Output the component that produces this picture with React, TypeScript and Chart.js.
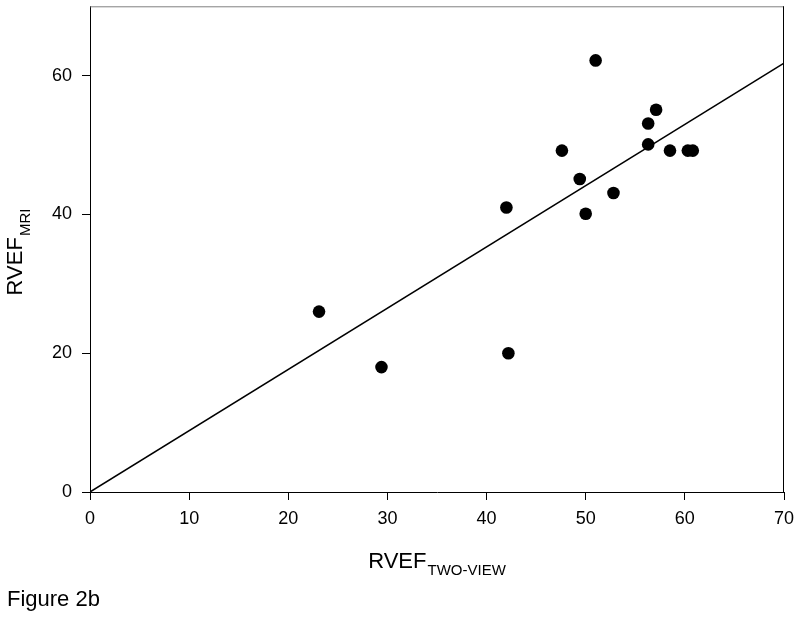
import React, { useEffect, useRef } from 'react';
import { Chart, registerables } from 'chart.js';

Chart.register(...registerables);

// Scatter data (RVEF two-view vs RVEF MRI)
const xValues = [23.1, 29.4, 42.2, 42.0, 47.6, 49.4, 50.0, 51.0, 52.8, 56.3, 56.3, 57.1, 58.5, 60.3, 60.8];
const yValues = [26.0, 18.0, 20.0, 41.0, 49.2, 45.1, 40.1, 62.2, 43.1, 53.1, 50.1, 55.1, 49.2, 49.2, 49.2];

// Regression line endpoints
const fitX = [0, 70];
const fitY = [0, 61.8];

const xMin = 0;
const xMax = 70;
const xStep = 10;
const yMin = 0;
const yMax = 70;
const yStep = 20;

const FONT = '"Liberation Sans", Arial, Helvetica, sans-serif';

function drawSubTitle(
  ctx: CanvasRenderingContext2D,
  cx: number,
  baseY: number,
  main: string,
  sub: string,
  mainSize: number,
  subSize: number,
  drop: number
) {
  ctx.font = `${mainSize}px ${FONT}`;
  const w1 = ctx.measureText(main).width;
  ctx.font = `${subSize}px ${FONT}`;
  const w2 = ctx.measureText(sub).width;
  const gap = 1;
  const start = cx - (w1 + gap + w2) / 2;
  ctx.textAlign = 'left';
  ctx.textBaseline = 'alphabetic';
  ctx.font = `${mainSize}px ${FONT}`;
  ctx.fillText(main, start, baseY);
  ctx.font = `${subSize}px ${FONT}`;
  ctx.fillText(sub, start + w1 + gap, baseY + drop);
}

const decorPlugin = {
  id: 'decor',
  afterDraw(chart: any) {
    const ctx: CanvasRenderingContext2D = chart.ctx;
    const a = chart.chartArea;
    ctx.save();
    // frame top (grey) and right (black)
    ctx.lineWidth = 1;
    ctx.strokeStyle = '#808080';
    ctx.beginPath();
    ctx.moveTo(a.left, a.top + 0.5);
    ctx.lineTo(a.right, a.top + 0.5);
    ctx.stroke();
    ctx.strokeStyle = '#000000';
    ctx.beginPath();
    ctx.moveTo(a.right - 0.5, a.top);
    ctx.lineTo(a.right - 0.5, a.bottom);
    ctx.stroke();

    ctx.fillStyle = '#000000';
    // x title
    drawSubTitle(ctx, (a.left + a.right) / 2, 568, 'RVEF', 'TWO-VIEW', 22, 15, 7);
    // y title
    ctx.save();
    ctx.translate(22, 252);
    ctx.rotate(-Math.PI / 2);
    drawSubTitle(ctx, 0, 0, 'RVEF', 'MRI', 22, 15, 8);
    ctx.restore();
    // figure caption
    ctx.font = `22px ${FONT}`;
    ctx.textAlign = 'left';
    ctx.textBaseline = 'alphabetic';
    ctx.fillText('Figure 2b', 7, 606);
    ctx.restore();
  },
};

export default function App() {
  const canvasRef = useRef<HTMLCanvasElement | null>(null);

  useEffect(() => {
    document.body.style.margin = '0';
    const canvas = canvasRef.current;
    if (!canvas) return;
    const points = xValues.map((x, i) => ({ x, y: yValues[i] }));
    const fit = fitX.map((x, i) => ({ x, y: fitY[i] }));

    const chart = new Chart(canvas, {
      type: 'scatter',
      data: {
        datasets: [
          {
            label: 'data',
            data: points,
            backgroundColor: '#000000',
            borderColor: '#000000',
            pointRadius: 6.3,
            pointHoverRadius: 6.3,
            borderWidth: 0,
          },
          {
            type: 'line',
            label: 'fit',
            data: fit,
            showLine: true,
            borderColor: '#000000',
            borderWidth: 1.5,
            pointRadius: 0,
            fill: false,
          } as any,
        ],
      },
      options: {
        responsive: false,
        animation: false,
        devicePixelRatio: 1,
        layout: { padding: { top: 6, right: 16, left: 0, bottom: 0 } },
        plugins: {
          legend: { display: false },
          tooltip: { enabled: false },
        },
        scales: {
          x: {
            type: 'linear',
            min: xMin,
            max: xMax,
            afterFit: (s: any) => {
              s.height = 126;
              s.paddingLeft = 0;
              s.paddingRight = 0;
            },
            ticks: {
              stepSize: xStep,
              includeBounds: false,
              color: '#000000',
              font: { family: FONT, size: 18 },
              padding: 8,
              maxRotation: 0,
            },
            grid: {
              display: true,
              drawOnChartArea: false,
              drawTicks: true,
              tickLength: 8,
              color: '#000000',
            },
            border: { display: true, color: '#000000', width: 1 },
          },
          y: {
            type: 'linear',
            min: yMin,
            max: yMax,
            afterFit: (s: any) => {
              s.width = 90;
              s.paddingTop = 0;
              s.paddingBottom = 0;
            },
            ticks: {
              stepSize: yStep,
              includeBounds: false,
              color: '#000000',
              font: { family: FONT, size: 18 },
              padding: 10,
            },
            grid: {
              display: true,
              drawOnChartArea: false,
              drawTicks: true,
              tickLength: 8,
              color: '#000000',
            },
            border: { display: true, color: '#000000', width: 1 },
          },
        },
      },
      plugins: [decorPlugin],
    });

    return () => {
      chart.destroy();
    };
  }, []);

  return (
    <div style={{ width: 800, height: 618, background: '#ffffff' }}>
      <canvas ref={canvasRef} width={800} height={618} style={{ display: 'block' }} />
    </div>
  );
}
